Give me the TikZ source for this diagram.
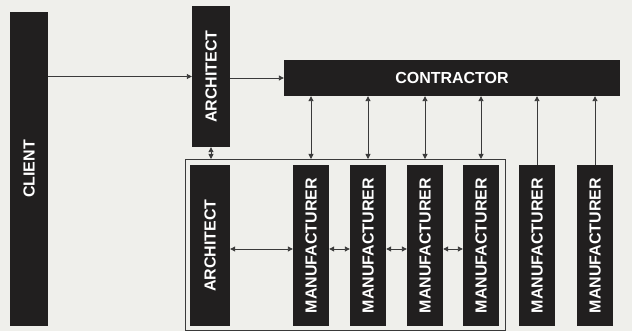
\documentclass[tikz,border=0pt]{standalone}
\usepackage{fontspec}
\usepackage{graphicx}
\setmainfont{Liberation Sans}
\usetikzlibrary{arrows.meta}
\definecolor{bgc}{HTML}{EFEFEB}
\definecolor{boxc}{HTML}{211F1F}
\definecolor{linec}{HTML}{3A3A3A}
\newcommand\vlabel[1]{\rotatebox{90}{#1}}
\begin{document}
\begin{tikzpicture}[x=1pt,y=-1pt,
  blk/.style={fill=boxc,draw=none,text=white,inner sep=0pt,
    font=\fontsize{16}{16}\selectfont\bfseries},
  conn/.style={draw=linec,line width=0.9pt},
  one/.style={conn,-{Triangle[length=5pt,width=5pt]}},
  two/.style={conn,{Triangle[length=5pt,width=5pt]}-{Triangle[length=5pt,width=5pt]}}]
\fill[bgc] (0,0) rectangle (632,331);
\useasboundingbox (0,0) rectangle (632,331);
% top row
\node[blk,minimum width=38pt,minimum height=314pt] (client) at (29,169) {\vlabel{CLIENT}};
\node[blk,minimum width=38pt,minimum height=141pt] (archT) at (211,76.5) {\vlabel{ARCHITECT}};
\node[blk,minimum width=336pt,minimum height=36pt] (contr) at (452,78) {CONTRACTOR};
% frame
\coordinate (ftl) at (185,159);
\coordinate (fbr) at (505,330);
\draw[draw=linec,line width=0.9pt] (ftl) rectangle (fbr);
% bottom row
\node[blk,minimum width=40pt,minimum height=161pt] (archB) at (210,245.5) {\vlabel{ARCHITECT}};
\foreach \n/\x in {m1/311,m2/368,m3/425,m4/481,m5/537,m6/595}
  \node[blk,minimum width=36pt,minimum height=161pt] (\n) at (\x,245.5) {\vlabel{MANUFACTURER}};
% connectors
\draw[one] (client.east |- archT.west) -- (archT.west);
\draw[one] (archT.east |- contr.west) -- (contr.west);
\draw[two] (archT.south) -- (archT.south |- ftl);
\foreach \n in {m1,m2,m3,m4}
  \draw[two] (contr.south -| \n.north) -- (\n.north |- ftl);
\foreach \n in {m5,m6}
  \draw[one] (\n.north) -- (contr.south -| \n.north);
\draw[two] ([yshift=-3.5pt]archB.east) -- ([yshift=-3.5pt]m1.west);
\draw[two] ([yshift=-3.5pt]m1.east) -- ([yshift=-3.5pt]m2.west);
\draw[two] ([yshift=-3.5pt]m2.east) -- ([yshift=-3.5pt]m3.west);
\draw[two] ([yshift=-3.5pt]m3.east) -- ([yshift=-3.5pt]m4.west);
\end{tikzpicture}
\end{document}
